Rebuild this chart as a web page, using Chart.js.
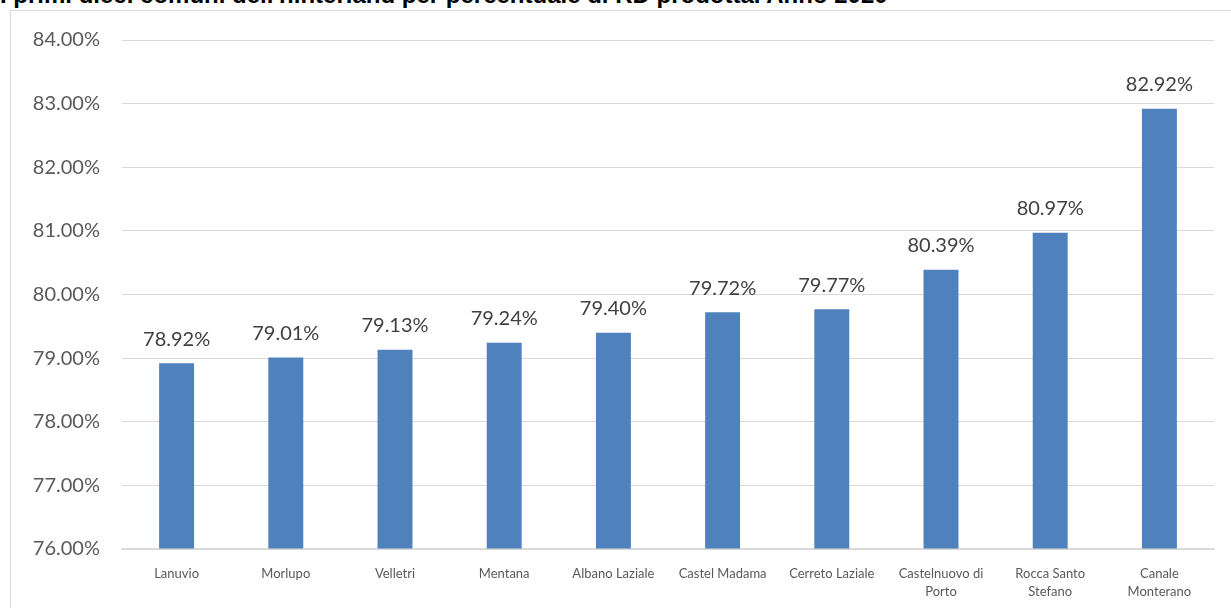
<!DOCTYPE html>
<html>
<head>
<meta charset="utf-8">
<script src="https://cdn.jsdelivr.net/npm/chart.js@4"></script>
<style>
  body { margin: 0; background: #fff; width: 1231px; height: 608px; overflow: hidden; position: relative; }
  .title { position: absolute; left: 0; top: -17px; font: bold 24px "Liberation Sans", Arial, sans-serif; color: #000; white-space: nowrap; line-height: 23px; }
  .box { position: absolute; left: 10px; top: 10px; width: 1230px; height: 610px; border: 1px solid #d9d9d9; background: #fff; }
  .box canvas { position: absolute; left: 0; top: -5px; }
</style>
</head>
<body>
<div class="title">I primi dieci comuni dell'hinterland per percentuale di RD prodotta. Anno 2020</div>
<div class="box"><canvas id="chart" width="1220" height="602"></canvas></div>
<script>
const comuni = [
  'Lanuvio', 'Morlupo', 'Velletri', 'Mentana', 'Albano Laziale', 'Castel Madama',
  'Cerreto Laziale', ['Castelnuovo di', 'Porto'], ['Rocca Santo', 'Stefano'], ['Canale', 'Monterano'],
]
const percentualeRD = [78.92, 79.01, 79.13, 79.24, 79.40, 79.72, 79.77, 80.39, 80.97, 82.92]
const yMin = 76
const yMax = 84

const fmt = (v) => v.toFixed(2) + '%'

// etichette sopra le barre
const valueLabels = {
  id: 'valueLabels',
  afterDatasetsDraw(chart) {
    const { ctx } = chart
    const meta = chart.getDatasetMeta(0)
    ctx.save()
    ctx.font = '20px Lato'
    ctx.fillStyle = '#404040'
    ctx.textAlign = 'center'
    ctx.textBaseline = 'bottom'
    meta.data.forEach((bar, i) => {
      ctx.fillText(fmt(percentualeRD[i]), bar.x, bar.y - 14)
    })
    ctx.restore()
  },
}

new Chart(document.getElementById('chart'), {
  type: 'bar',
  data: {
    labels: comuni,
    datasets: [{
      data: percentualeRD,
      backgroundColor: '#4f81bd',
      base: yMin,
      categoryPercentage: 1,
      barPercentage: 0.32,
    }],
  },
  options: {
    responsive: false,
    animation: false,
    layout: { autoPadding: false, padding: { top: 29, right: 17, left: 0, bottom: 0 } },
    plugins: { legend: { display: false }, tooltip: { enabled: false } },
    scales: {
      x: {
        grid: { display: false },
        border: { color: '#d9d9d9', width: 2 },
        ticks: {
          color: '#595959',
          font: { family: 'Lato', size: 13, lineHeight: 1.35 },
          padding: 8,
          maxRotation: 0,
          autoSkip: false,
        },
        afterFit(scale) { scale.height = 59 },
      },
      y: {
        min: yMin,
        max: yMax,
        grid: { color: '#d9d9d9', drawTicks: false },
        border: { display: false },
        ticks: {
          stepSize: 1,
          color: '#595959',
          font: { family: 'Lato', size: 20 },
          padding: 22,
          callback: (v) => fmt(v),
        },
        afterFit(scale) { scale.width = 111 },
      },
    },
  },
  plugins: [valueLabels],
})
</script>
</body>
</html>
